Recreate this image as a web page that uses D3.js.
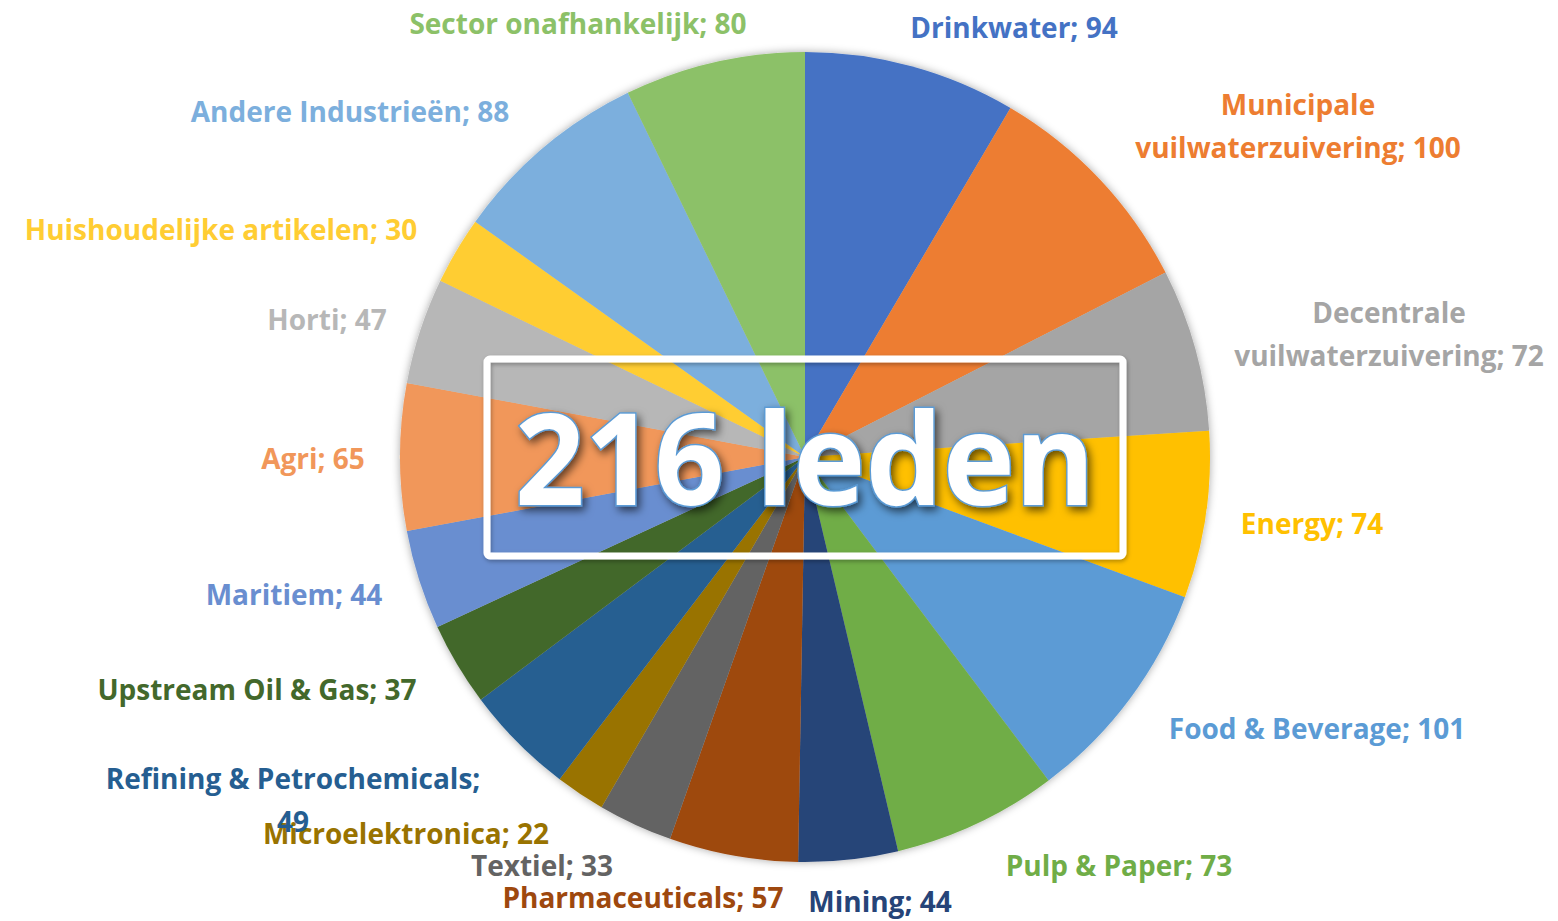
<!DOCTYPE html>
<html>
<head>
<meta charset="utf-8">
<script src="https://cdn.jsdelivr.net/npm/d3@7"></script>
<style>
  html, body { margin: 0; padding: 0; background: #ffffff; }
  svg { display: block; }
  text { font-family: "Open Sans", "Lato", sans-serif; font-weight: 700; }
</style>
</head>
<body>
<svg id="chart" width="1558" height="921"></svg>
<script>
// ---- data ----
const categories = [
  "Drinkwater", "Municipale vuilwaterzuivering", "Decentrale vuilwaterzuivering",
  "Energy", "Food & Beverage", "Pulp & Paper", "Mining", "Pharmaceuticals",
  "Textiel", "Microelektronica", "Refining & Petrochemicals", "Upstream Oil & Gas",
  "Maritiem", "Agri", "Horti", "Huishoudelijke artikelen", "Andere Industrieën",
  "Sector onafhankelijk"
];
const values = [94, 100, 72, 74, 101, 73, 44, 57, 33, 22, 49, 37, 44, 65, 47, 30, 88, 80];
const colors = [
  "#4472C4", "#ED7D31", "#A5A5A5", "#FFC000", "#5B9BD5", "#70AD47", "#264478", "#9E480E",
  "#636363", "#997300", "#255E91", "#43682B", "#698ED0", "#F1975A", "#B7B7B7", "#FFCD33",
  "#7CAFDD", "#8CC168"
];
// label line breaks (text only)
const labelLines = [
  ["Drinkwater; 94"],
  ["Municipale", "vuilwaterzuivering; 100"],
  ["Decentrale", "vuilwaterzuivering; 72"],
  ["Energy; 74"],
  ["Food & Beverage; 101"],
  ["Pulp & Paper; 73"],
  ["Mining; 44"],
  ["Pharmaceuticals; 57"],
  ["Textiel; 33"],
  ["Microelektronica; 22"],
  ["Refining & Petrochemicals;", "49"],
  ["Upstream Oil & Gas; 37"],
  ["Maritiem; 44"],
  ["Agri; 65"],
  ["Horti; 47"],
  ["Huishoudelijke artikelen; 30"],
  ["Andere Industrieën; 88"],
  ["Sector onafhankelijk; 80"]
];
const centerTitle = "216 leden";

// ---- layout ----
const cx = 805, cy = 457, R = 405;
// label centre offsets from pie centre (layout, not data)
const labelOffsets = [
  [209, -429], [493, -330], [584, -122], [507, 67], [512, 272], [314, 409],
  [75, 445], [-162, 441], [-263, 409], [-399, 377], [-512, 344], [-548, 233],
  [-511, 138], [-492, 2], [-478, -137], [-584, -227], [-455, -345], [-227, -433]
];
const lineH = 43;

const svg = d3.select("#chart");
const defs = svg.append("defs");
const sh = defs.append("filter").attr("id", "pieShadow")
  .attr("x", "-10%").attr("y", "-10%").attr("width", "120%").attr("height", "120%");
sh.append("feDropShadow").attr("dx", 0).attr("dy", 0).attr("stdDeviation", 4)
  .attr("flood-color", "#000").attr("flood-opacity", 0.35);
const tsh = defs.append("filter").attr("id", "textShadow")
  .attr("x", "-10%").attr("y", "-20%").attr("width", "120%").attr("height", "150%");
tsh.append("feDropShadow").attr("dx", 3).attr("dy", 4).attr("stdDeviation", 4)
  .attr("flood-color", "#000").attr("flood-opacity", 0.6);
const rsh = defs.append("filter").attr("id", "rectShadow")
  .attr("x", "-5%").attr("y", "-10%").attr("width", "110%").attr("height", "120%");
rsh.append("feDropShadow").attr("dx", 1).attr("dy", 2).attr("stdDeviation", 2)
  .attr("flood-color", "#000").attr("flood-opacity", 0.3);

const data = categories.map((c, i) => ({ name: c, value: values[i], i }));
const pie = d3.pie().value(d => d.value).sort(null);
const arc = d3.arc().innerRadius(0).outerRadius(R);
const color = d3.scaleOrdinal().domain(categories).range(colors);

const g = svg.append("g").attr("transform", `translate(${cx},${cy})`);
g.append("g").attr("filter", "url(#pieShadow)")
  .selectAll("path").data(pie(data)).join("path")
  .attr("d", arc)
  .attr("fill", d => color(d.data.name));

// labels
const lg = g.append("g");
pie(data).forEach(d => {
  const i = d.data.i;
  const lines = labelLines[i];
  const [ox, oy] = labelOffsets[i];
  const t = lg.append("text")
    .attr("text-anchor", "middle")
    .attr("fill", color(d.data.name))
    .attr("font-size", 28);
  const startY = oy - (lines.length - 1) * lineH / 2;
  lines.forEach((ln, k) => {
    t.append("tspan").attr("x", ox).attr("y", startY + k * lineH).attr("dy", "0.35em").text(ln);
  });
});

// centre box + title
svg.append("rect")
  .attr("x", 487).attr("y", 359).attr("width", 636).attr("height", 197)
  .attr("rx", 3)
  .attr("fill", "none").attr("stroke", "#ffffff").attr("stroke-width", 7)
  .attr("filter", "url(#rectShadow)");
svg.append("text")
  .attr("x", 515).attr("y", 505)
  .attr("textLength", 580).attr("lengthAdjust", "spacingAndGlyphs")
  .attr("font-size", 128)
  .attr("fill", "#ffffff")
  .attr("stroke", "#5B9BD5").attr("stroke-width", 3)
  .attr("paint-order", "stroke")
  .attr("filter", "url(#textShadow)")
  .text(centerTitle);
</script>
</body>
</html>
